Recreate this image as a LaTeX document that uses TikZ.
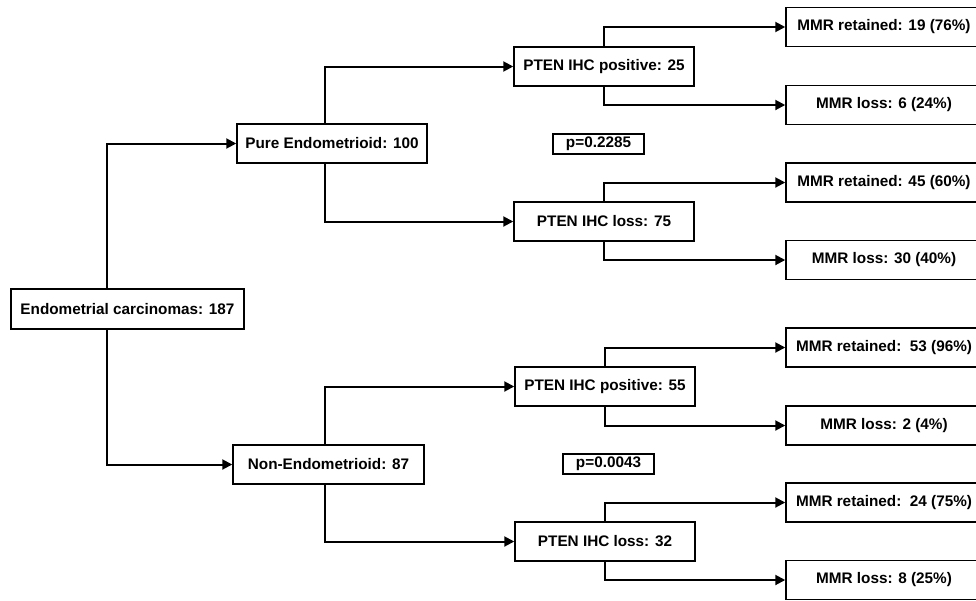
\documentclass[tikz,border=0pt]{standalone}
\usepackage{fontspec}
\setmainfont{Liberation Sans}
\usetikzlibrary{arrows.meta}
\begin{document}
\begin{tikzpicture}[x=1pt,y=-1pt,
  box/.style={draw, line width=1.5pt, inner sep=0pt, font=\fontsize{15.3}{18}\selectfont\bfseries, align=center},
  pbox/.style={draw, line width=1.3pt, inner sep=0pt, minimum width=91pt, minimum height=20pt, font=\fontsize{15.3}{18}\selectfont\bfseries},
  mid/.style={box, minimum width=180pt, minimum height=39pt},
  leaf/.style={box, minimum width=196pt, minimum height=39pt},
  conn/.style={line width=2pt, -{Triangle[length=10pt,width=10pt]}}]
\useasboundingbox (0,0) rectangle (976,600);
\clip (0,0) rectangle (976,600);
% level 0
\node[box, minimum width=233pt, minimum height=40pt] (root) at (127.5,309) {Endometrial carcinomas: 187};
% level 1
\node[box, minimum width=190pt, minimum height=39pt] (pe) at (332,143.5) {Pure Endometrioid: 100};
\node[box, minimum width=191pt, minimum height=39pt] (ne) at (328.5,464.5) {Non-Endometrioid: 87};
% level 2
\node[mid] (pp25) at (604,66.5) {PTEN IHC positive: 25};
\node[mid] (pl75) at (604,221.5) {PTEN IHC loss: 75};
\node[mid] (pp55) at (605,386.5) {PTEN IHC positive: 55};
\node[mid] (pl32) at (605,541.5) {PTEN IHC loss: 32};
% p values
\node[pbox] (p1) at (598.5,144) {p=0.2285};
\node[pbox] (p2) at (608.5,464) {p=0.0043};
% level 3
\node[leaf] (m1) at (884,27) {MMR retained: 19 (76\%)};
\node[leaf] (m2) at (884,105) {MMR loss: 6 (24\%)};
\node[leaf] (m3) at (884,182.5) {MMR retained: 45 (60\%)};
\node[leaf] (m4) at (884,260) {MMR loss: 30 (40\%)};
\node[leaf] (m5) at (884,347.5) {MMR retained:\ \ 53 (96\%)};
\node[leaf] (m6) at (884,425.5) {MMR loss: 2 (4\%)};
\node[leaf] (m7) at (884,502.5) {MMR retained:\ \ 24 (75\%)};
\node[leaf] (m8) at (884,580) {MMR loss: 8 (25\%)};
% connectors
\draw[conn] ([xshift=-20.5pt]root.north) |- (pe.west);
\draw[conn] ([xshift=-20.5pt]root.south) |- (ne.west);
\draw[conn] ([xshift=-7pt]pe.north) |- (pp25.west);
\draw[conn] ([xshift=-7pt]pe.south) |- (pl75.west);
\draw[conn] ([xshift=-3.5pt]ne.north) |- (pp55.west);
\draw[conn] ([xshift=-3.5pt]ne.south) |- (pl32.west);
\draw[conn] (pp25.north) |- (m1.west);
\draw[conn] (pp25.south) |- (m2.west);
\draw[conn] (pl75.north) |- (m3.west);
\draw[conn] (pl75.south) |- (m4.west);
\draw[conn] (pp55.north) |- (m5.west);
\draw[conn] (pp55.south) |- (m6.west);
\draw[conn] (pl32.north) |- (m7.west);
\draw[conn] (pl32.south) |- (m8.west);
\end{tikzpicture}
\end{document}
